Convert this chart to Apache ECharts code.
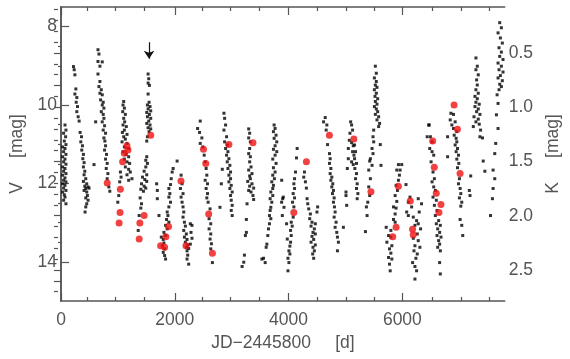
<!DOCTYPE html>
<html><head><meta charset="utf-8">
<script src="https://cdn.jsdelivr.net/npm/echarts@6/dist/echarts.min.js"></script>
<style>html,body{margin:0;padding:0;background:#fff}#c{width:570px;height:359px}</style>
</head><body><div id="c"></div>
<script>
// JD-2445800 [d], V [mag] : visual photometry (black dots)
const blackPoints = [
[70,10.51],[87,10.64],[46,10.72],[81,10.81],[58,10.92],[87,11.01],[29,11.07],[70,11.11],[46,11.19],[87,11.26],[29,11.32],[70,11.38],[46,11.45],[87,11.51],[29,11.58],[70,11.62],[46,11.69],[87,11.75],[29,11.79],[70,11.86],[46,11.92],[87,11.96],[29,12.01],[70,12.05],[46,12.12],[87,12.18],[29,12.22],[58,12.29],[70,12.35],[46,12.43],[87,12.52],
[220,9.02],[232,9.10],[244,9.23],[261,9.59],[244,9.72],[278,9.81],[267,9.93],[290,10.04],[278,10.17],[302,10.30],[319,10.41],[336,10.70],[360,10.81],[348,10.94],[377,11.04],[365,11.15],[394,11.26],[383,11.37],[406,11.47],[394,11.58],[418,11.69],[406,11.78],[435,11.88],[394,11.95],[452,12.01],[418,12.07],[476,12.09],[435,12.13],[493,12.12],[406,12.18],[452,12.22],[464,12.31],[435,12.37],[476,12.43],[452,12.52],[435,12.60],[423,12.73],[580,11.52],
[650,8.59],[667,8.70],[650,8.89],[725,8.90],[684,9.01],[650,9.21],[684,9.40],[667,9.53],[708,9.61],[684,9.70],[725,9.74],[696,9.87],[742,9.93],[725,10.00],[754,10.08],[708,10.17],[742,10.24],[754,10.34],[725,10.43],[766,10.53],[742,10.64],[783,10.72],[754,10.84],[771,10.92],[783,11.04],[766,11.15],[800,11.26],[783,11.38],[812,11.49],[795,11.62],[824,11.75],[812,11.88],[841,12.09],[858,12.20],[609,10.43],
[1102,9.91],[1090,10.00],[1114,10.08],[1085,10.17],[1131,10.24],[1102,10.34],[1119,10.43],[1090,10.51],[1148,10.55],[1114,10.64],[1079,10.70],[1160,10.75],[1102,10.81],[1131,10.87],[1073,10.94],[1160,10.98],[1114,11.07],[1189,11.11],[1090,11.19],[1143,11.26],[1189,11.32],[1114,11.38],[1160,11.45],[1206,11.49],[1131,11.58],[1189,11.64],[1218,11.71],[1160,11.78],[1247,11.88],[1189,11.92],[1044,11.71],[1056,11.84],[1032,11.96],[1015,12.31],[998,12.48],
[1531,9.21],[1542,9.33],[1531,9.44],[1554,9.50],[1531,9.72],[1548,9.93],[1519,10.00],[1565,10.04],[1531,10.10],[1577,10.15],[1507,10.19],[1554,10.24],[1519,10.30],[1577,10.34],[1542,10.41],[1507,10.47],[1565,10.51],[1531,10.58],[1577,10.61],[1548,10.68],[1519,10.81],[1507,10.92],[1507,11.32],[1490,11.41],[1519,11.49],[1490,11.58],[1461,11.69],[1507,11.78],[1432,11.84],[1473,11.90],[1507,11.95],[1415,12.01],[1461,12.07],[1490,12.12],[1403,12.15],[1449,12.20],[1391,12.37],[1415,12.52],[1403,12.63],[1374,12.82],[1357,13.20],
[1681,12.01],[1693,12.18],[1693,12.39],[1722,12.82],[1971,11.62],[1954,11.71],[1937,11.88],[1925,12.03],[1896,12.13],[1913,12.26],[1896,12.35],[1925,12.48],[1896,12.60],[1867,12.73],[1879,12.82],[1855,12.92],[1896,12.99],[1838,13.07],[1867,13.16],[1809,13.25],[1838,13.33],[1763,13.37],[1797,13.43],[1809,13.52],[1780,13.59],[1821,13.67],[1797,13.76],[1821,13.84],[1838,13.93],[2041,11.43],
[2111,11.79],[2128,12.01],[2099,12.13],[2145,12.26],[2111,12.35],[2128,12.48],[2145,12.60],[2157,12.73],[2145,12.86],[2169,12.99],[2186,13.09],[2157,13.20],[2203,13.29],[2169,13.37],[2215,13.43],[2186,13.50],[2227,13.57],[2203,13.63],[2215,13.72],[2227,13.83],[2215,13.93],[2244,14.06],[2273,13.03],[2302,13.07],[2285,13.25],[2302,13.40],[2273,13.55],[2244,13.66],
[2447,10.41],[2401,10.60],[2435,10.70],[2476,10.84],[2447,10.98],[2493,11.07],[2517,11.28],[2534,11.45],[2551,11.62],[2563,11.79],[2534,11.92],[2575,12.01],[2551,12.13],[2575,12.26],[2563,12.37],[2586,12.48],[2620,12.65],[2603,12.90],[2632,13.03],[2603,13.16],[2632,13.29],[2620,13.42],[2644,13.54],[2632,13.67],[2661,14.02],
[2864,10.21],[2876,10.34],[2893,10.51],[2864,10.64],[2910,10.81],[2876,10.94],[2922,11.02],[2893,11.11],[2934,11.19],[2910,11.28],[2951,11.37],[2922,11.45],[2968,11.54],[2934,11.62],[2980,11.71],[2951,11.79],[2835,11.64],[2980,11.88],[2951,11.96],[2992,12.05],[2968,12.13],[3009,12.22],[2980,12.31],[2992,12.43],[3009,12.56],[2992,12.69],[3009,12.82],[2818,12.01],[2794,12.61],
[3299,10.61],[3316,10.72],[3299,10.84],[3328,10.94],[3316,11.11],[3299,11.24],[3328,11.32],[3316,11.45],[3340,11.58],[3299,11.66],[3357,11.75],[3316,11.81],[3328,11.88],[3282,11.95],[3357,12.01],[3316,12.07],[3386,12.12],[3299,12.18],[3340,12.22],[3374,12.31],[3386,12.41],[3270,12.52],[3258,12.92],[3258,13.25],[3241,13.33],[3224,13.83],[3212,14.01],[3183,14.12],
[3746,10.51],[3763,10.60],[3734,10.68],[3780,10.77],[3746,10.85],[3792,10.94],[3763,11.04],[3734,11.13],[3792,11.19],[3763,11.28],[3722,11.38],[3780,11.49],[3734,11.60],[3763,11.71],[3722,11.79],[3751,11.88],[3705,11.96],[3734,12.05],[3722,12.13],[3688,12.22],[3722,12.31],[3676,12.39],[3705,12.48],[3688,12.61],[3676,12.69],[3664,12.82],[3688,12.90],[3664,13.03],[3647,13.16],[3635,13.33],[3618,13.55],[3606,13.63],[3560,13.91],[3589,14.02],[3531,13.93],[3879,11.92],[3896,12.39],
[3907,12.35],[3878,12.48],[3919,12.61],[3890,12.82],
[4151,11.11],[4139,11.35],[4122,11.71],[4105,11.88],[4093,12.01],[4105,12.13],[4081,12.26],[4105,12.37],[4070,12.48],[4093,12.60],[4081,12.86],[4047,12.99],[4064,13.09],[3965,13.03],[4035,13.20],[4047,13.33],[3977,13.42],[4035,13.50],[4023,13.60],[4006,13.72],[4023,13.80],[3989,13.91],[4006,14.02],[3989,14.23],
[4279,11.71],[4267,11.84],[4296,11.96],[4313,12.12],[4325,12.39],[4337,12.52],[4354,12.65],[4383,12.78],[4371,12.90],[4412,12.99],[4470,13.03],[4395,13.09],[4453,13.16],[4429,13.25],[4470,13.29],[4412,13.35],[4441,13.43],[4395,13.50],[4470,13.57],[4429,13.63],[4453,13.72],[4424,13.80],[4441,13.91],[4511,12.60],[4499,12.73],
[4644,10.32],[4615,10.43],[4673,10.51],[4661,10.64],[4685,11.01],[4719,11.24],[4731,11.37],[4719,11.49],[4743,11.62],[4731,11.75],[4760,11.84],[4743,11.92],[4777,12.01],[4760,12.09],[4789,12.18],[4772,12.26],[4801,12.37],[4789,12.48],[4806,12.60],[4818,12.73],[4801,12.86],[4835,12.99],[4818,13.12],[4847,13.25],[4859,13.37],[4876,13.50],[4859,13.72],[4963,13.12],
[5091,10.43],[5108,10.51],[5125,10.64],[5079,10.72],[5067,10.90],[5108,10.96],[5137,11.04],[5050,11.11],[5125,11.19],[5149,11.28],[5050,11.37],[5108,11.45],[5137,11.52],[5033,11.62],[5009,12.22],[5009,12.31],[5021,12.56],
[5160,11.02],[5177,11.19],[5160,11.37],[5194,11.49],[5165,11.62],[5194,11.75],[5177,11.88],[5206,12.01],[5194,12.13],[5218,12.26],[5206,12.39],
[5525,9.01],[5542,9.19],[5508,9.31],[5542,9.40],[5525,9.49],[5554,9.55],[5508,9.61],[5542,9.70],[5519,9.78],[5566,9.84],[5525,9.91],[5554,9.98],[5508,10.04],[5542,10.10],[5566,10.17],[5525,10.24],[5583,10.30],[5554,10.38],[5600,10.47],[5583,10.55],[5496,10.64],[5484,10.81],[5496,10.94],[5612,11.01],[5467,11.11],[5484,11.24],[5438,11.37],[5426,11.43],[5467,11.54],[5409,11.66],[5438,11.88],[5409,12.09],[5426,12.31],[5392,12.48],[5368,12.60],[5380,12.82],[5351,13.23],[5624,11.54],
[5931,11.52],[5989,11.52],[5902,11.66],[5960,11.66],[5948,11.79],[5931,11.92],[5890,12.05],[5914,12.18],[5873,12.31],[5902,12.46],[5844,12.60],[5890,12.63],[5873,12.78],[5844,12.92],[5716,13.12],[5873,12.99],[5798,13.20],[5757,13.33],[5798,13.37],[5728,13.50],[5815,13.59],[5774,13.67],[5798,13.78],[5757,13.89],[5815,13.93],[5774,14.06],[5786,14.23],[6064,12.03],
[6134,12.35],[6105,12.48],[6163,12.60],[6076,12.73],[6105,12.82],[6192,12.86],[6279,12.39],[6337,12.52],[6296,12.73],[6250,12.95],[6221,13.07],[6279,13.03],[6320,13.16],[6262,13.29],[6192,13.40],[6279,13.46],[6221,13.59],[6308,13.63],[6204,13.72],[6262,13.80],[6238,13.91],[6180,14.02],[6221,14.12],[6250,14.23],[6221,14.44],[6470,10.51],[6436,10.81],
[6464,10.51],[6493,10.81],[6522,10.94],[6481,11.11],[6522,11.19],[6551,11.28],[6505,11.45],[6539,11.71],[6563,11.88],[6522,11.96],[6551,12.09],[6580,12.18],[6539,12.35],[6597,12.43],[6563,12.56],[6609,12.69],[6580,12.82],[6638,12.95],[6597,13.03],[6667,13.07],[6621,13.16],[6655,13.25],[6609,13.33],[6679,13.37],[6638,13.46],[6655,13.55],[6621,13.63],[6667,13.72],[6655,14.02],[6667,14.31],
[6853,10.21],[6899,10.24],[6841,10.38],[6928,10.43],[6870,10.51],[6899,10.60],[6957,10.68],[6911,10.77],[6945,10.85],[6957,10.94],[6928,11.02],[6969,11.11],[6945,11.19],[6986,11.28],[6957,11.38],[6992,11.49],[6969,11.60],[7003,11.88],[6986,12.01],[7015,12.13],[7027,12.26],[7003,12.37],[7044,12.48],[7027,12.58],[7015,12.92],[7044,13.07],[7061,13.33],[6795,10.81],[6795,11.32],
[7293,8.80],[7317,9.01],[7293,9.10],[7334,9.23],[7305,9.36],[7317,9.49],[7293,9.61],[7334,9.70],[7276,9.78],[7317,9.84],[7293,9.93],[7351,9.98],[7276,10.04],[7334,10.10],[7305,10.17],[7363,10.24],[7259,10.30],[7334,10.36],[7293,10.43],[7351,10.49],[7247,10.55],[7375,10.64],[7363,10.81],[7409,10.84],[7421,11.43],[7450,11.69],[7201,11.81],[7177,12.18],[7189,12.31],
[7711,7.90],[7740,8.03],[7682,8.16],[7723,8.29],[7757,8.42],[7699,8.54],[7740,8.65],[7711,8.76],[7769,8.84],[7682,8.93],[7740,9.01],[7699,9.10],[7769,9.16],[7723,9.25],[7682,9.31],[7757,9.38],[7711,9.47],[7740,9.53],[7699,9.61],[7665,9.74],[7682,9.96],[7653,10.25],[7682,10.60],[7641,10.98],[7624,11.24],[7595,11.66],[7624,11.88],[7595,12.13],[7583,12.39],[7549,12.82]
];
// simultaneous K-band epochs (red dots), JD-2445800 and V
const redPoints = [
[812,11.99],[1160,11.04],[1177,11.15],[1113,11.23],[1083,11.45],[1043,12.15],[1038,12.74],[1021,13.01],
[1577,10.77],[1461,12.82],[1386,13.01],[1374,13.42],[1751,13.59],[1821,13.63],[1843,13.36],[1890,13.10],
[2109,11.94],[2196,13.59],[2504,11.13],[2544,11.49],[2596,12.78],[2661,13.78],[2951,11.01],[3374,10.96],
[4313,11.45],[4718,10.77],[4092,12.74],[5147,10.87],[5448,12.21],[5930,12.07],[6139,12.45],[5890,13.12],
[5831,13.36],[6179,13.17],[6191,13.31],[6909,10.00],[6968,10.62],[6533,10.92],[6561,11.59],[7014,11.75],
[6596,12.25],[6678,12.54],[6643,12.74]
];
const arrowJD = 1548, arrowFrom = 8.40, arrowTo = 8.82;
const xMajor = [0,2000,4000,6000];
const xMinor = [500,1000,1500,2500,3000,3500,4500,5000,5500,6500,7000,7500];
const vMajor = [8,10,12,14];
const vMinor = [8.5,9,9.5,10.5,11,11.5,12.5,13,13.5,14.5];
const kMajor = [0.5,1.0,1.5,2.0,2.5];
const kMinor = [0.1,0.2,0.3,0.4,0.6,0.7,0.8,0.9,1.1,1.2,1.3,1.4,1.6,1.7,1.8,1.9,2.1,2.2,2.3,2.4,2.6,2.7];
const xRange = [0, 7800], vRange = [7.5, 15], kRange = [0.076, 2.786];

const AX = '#555', TXT = '#555', FONT = 'Liberation Sans';
const gridBox = {left:58, right:63, top:7, bottom:58};
function xAx(grid, pos, ticks, len, labels, extra) {
  return Object.assign({type:'value', gridIndex:grid, position:pos, min:xRange[0], max:xRange[1],
    axisLine:{show:grid===0, lineStyle:{color:AX, width:1.5}},
    axisTick:{show:true, inside:true, length:len, customValues:ticks, lineStyle:{color:AX, width:1.2}},
    axisLabel:labels ? {show:true, customValues:labels, fontSize:17.5, color:TXT, fontFamily:FONT, margin:10, formatter:v=>String(v)} : {show:false},
    splitLine:{show:false}}, extra||{});
}
function yAx(grid, pos, range, ticks, len, labels, fmt, extra) {
  return Object.assign({type:'value', gridIndex:grid, position:pos, inverse:true, min:range[0], max:range[1],
    axisLine:{show:grid===0, lineStyle:{color:AX, width:1.5}},
    axisTick:{show:true, inside:true, length:len, customValues:ticks, lineStyle:{color:AX, width:1.2}},
    axisLabel:labels ? {show:true, customValues:labels, fontSize:17.5, color:TXT, fontFamily:FONT, margin:4, formatter:fmt} : {show:false},
    splitLine:{show:false}}, extra||{});
}
const nameStyle = {fontSize:17.5, color:TXT, fontFamily:FONT};
const chart = echarts.init(document.getElementById('c'), null, {renderer:'canvas'});
chart.setOption({
  animation:false,
  backgroundColor:'#fff',
  grid:[Object.assign({}, gridBox), Object.assign({}, gridBox)],
  xAxis:[
    xAx(0,'bottom',xMajor,8,xMajor,{name:'JD\u22122445800     [d]', nameLocation:'middle', nameGap:32, nameTextStyle:nameStyle}),
    xAx(0,'top',xMajor,8,null),
    xAx(1,'bottom',xMinor,4,null),
    xAx(1,'top',xMinor,4,null)
  ],
  yAxis:[
    yAx(0,'left',vRange,vMajor,8,vMajor,v=>String(v),{name:'V     [mag]', nameLocation:'middle', nameGap:35, nameRotate:90, nameTextStyle:nameStyle}),
    yAx(0,'right',kRange,kMajor,7,kMajor,v=>Number(v).toFixed(1),{name:'K     [mag]', nameLocation:'middle', nameGap:34, nameRotate:90, nameTextStyle:nameStyle}),
    yAx(1,'left',vRange,vMinor,4,null),
    yAx(1,'right',kRange,kMinor,4,null)
  ],
  series:[
    {type:'scatter', xAxisIndex:0, yAxisIndex:0, data:blackPoints, symbol:'rect', symbolSize:3,
     itemStyle:{color:'#000'}, silent:true,
     markLine:{silent:true, symbol:['none','arrow'], symbolSize:8, label:{show:false},
       lineStyle:{color:'#111', width:1.2, type:'solid'},
       emphasis:{disabled:true},
       data:[[{coord:[arrowJD, arrowFrom]},{coord:[arrowJD, arrowTo]}]]}},
    {type:'scatter', xAxisIndex:0, yAxisIndex:0, data:redPoints, symbol:'circle', symbolSize:7,
     itemStyle:{color:'#ee1111'}, silent:true}
  ]
});
</script></body></html>
